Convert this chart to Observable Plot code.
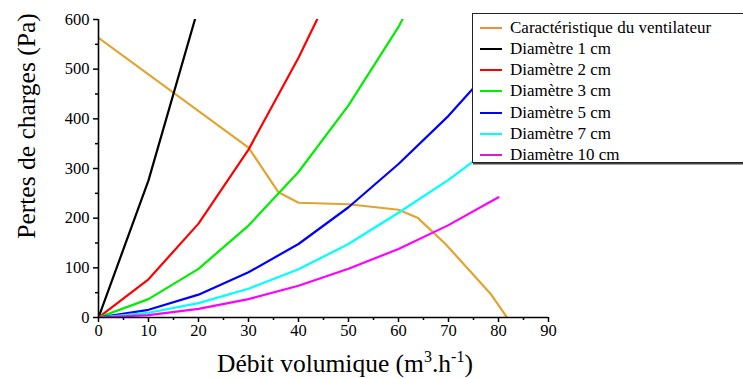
<!DOCTYPE html>
<html>
<head>
<meta charset="utf-8">
<script src="https://cdn.jsdelivr.net/npm/d3@7"></script>
<script src="https://cdn.jsdelivr.net/npm/@observablehq/plot@0.6"></script>
<style>
  html, body { margin: 0; padding: 0; background: #fff; }
  #wrap { position: relative; width: 743px; height: 378px; overflow: hidden; font-family: "Liberation Serif", Tinos, "Times New Roman", "Liberation Sans", sans-serif; }
  #ylab { position: absolute; left: 27px; top: 126px; transform: translate(-50%, -50%) rotate(-90deg); white-space: nowrap; font-size: 25.5px; }
  #xlab { position: absolute; left: 345px; top: 351px; transform: translateX(-50%); white-space: nowrap; font-size: 25.5px; line-height: 25px; }
  #xlab sup { font-size: 16px; vertical-align: 10px; line-height: 0; }
  #legend { position: absolute; left: 472px; top: 13px; width: 290px; height: 148px; background: #fff; border: 1.5px solid #222; box-shadow: 1px 1.5px 0 #444; }
  .row { position: absolute; left: 0; height: 21px; display: flex; align-items: center; font-size: 17px; white-space: nowrap; }
  .sw { width: 22px; height: 0; border-top: 2px solid; margin-left: 7px; margin-right: 8px; }
</style>
</head>
<body>
<div id="wrap"></div>
<script>
// ---- data ----
const xTicks = [0, 10, 20, 30, 40, 50, 60, 70, 80, 90];
const xMinor = [5, 15, 25, 35, 45, 55, 65, 75, 85];
const yTicks = [0, 100, 200, 300, 400, 500, 600];
const yMinor = [50, 150, 250, 350, 450, 550];

const fanX = [0, 30, 36, 40, 50, 60, 63.8, 69.4, 78.4, 81.7];
const fanY = [563, 342, 252, 231, 228, 217, 201, 148, 48, 0];

const d1X = [0, 10, 20];
const d1Y = [0, 276, 625];
const d2X = [0, 10, 20, 30, 40, 50];
const d2Y = [0, 77, 189, 338, 523, 730];
const d3X = [0, 10, 20, 30, 40, 50, 60, 70];
const d3Y = [0, 37, 98, 185, 293, 427, 585, 780];
const d5X = [0, 10, 20, 30, 40, 50, 60, 70, 80];
const d5Y = [0, 15.5, 46, 91, 148, 222, 309, 406, 518];
const d7X = [0, 10, 20, 30, 40, 50, 60, 70, 80];
const d7Y = [0, 9.5, 29, 58, 97, 148, 211, 277, 352];
const d10X = [0, 10, 20, 30, 40, 50, 60, 70, 80];
const d10Y = [0, 4.7, 17.5, 37, 64, 98, 138, 186, 242];

const seriesNames = ["Caractéristique du ventilateur", "Diamètre 1 cm", "Diamètre 2 cm", "Diamètre 3 cm", "Diamètre 5 cm", "Diamètre 7 cm", "Diamètre 10 cm"];
const lineColors = ["#e2a42e", "#000000", "#ff0000", "#00ee00", "#0000ff", "#00ffff", "#ff00ff"];
const legendColors = ["#f58a3c", "#000000", "#ff0000", "#00ee00", "#0000ff", "#00ffff", "#cc22cc"];

const seriesX = [fanX, d1X, d2X, d3X, d5X, d7X, d10X];
const seriesY = [fanY, d1Y, d2Y, d3Y, d5Y, d7Y, d10Y];

const rows = [];
seriesNames.forEach((name, i) => {
  seriesX[i].forEach((x, j) => rows.push({series: name, x, y: seriesY[i][j]}));
});

const FONT = "'Liberation Serif', Tinos, 'Times New Roman', 'Liberation Sans', sans-serif";

const chart = Plot.plot({
  width: 743,
  height: 378,
  marginLeft: 98,
  marginRight: 195,
  marginTop: 19,
  marginBottom: 61,
  style: {fontFamily: FONT, fontSize: "16.5px", color: "#000", background: "#fff"},
  x: {domain: [0, 90]},
  y: {domain: [0, 600]},
  color: {domain: seriesNames, range: lineColors},
  marks: [
    Plot.line(rows, {x: "x", y: "y", z: "series", stroke: "series", strokeWidth: 2.2, clip: true}),
    Plot.axisX({ticks: xTicks, tickSize: 5, tickPadding: 2, strokeWidth: 1.5, label: null}),
    Plot.axisX({ticks: xMinor, tickSize: 3, text: null, strokeWidth: 1.5, label: null}),
    Plot.axisY({ticks: yTicks, tickSize: 5, tickPadding: 4, strokeWidth: 1.5, label: null}),
    Plot.axisY({ticks: yMinor, tickSize: 3, text: null, strokeWidth: 1.5, label: null}),
    Plot.ruleX([0], {strokeWidth: 1.6}),
    Plot.ruleY([0], {strokeWidth: 1.6})
  ]
});

const wrap = document.getElementById("wrap");
wrap.appendChild(chart);

const ylab = document.createElement("div");
ylab.id = "ylab";
ylab.textContent = "Pertes de charges (Pa)";
wrap.appendChild(ylab);

const xlab = document.createElement("div");
xlab.id = "xlab";
xlab.innerHTML = "Débit volumique (m<sup>3</sup>.h<sup>-1</sup>)";
wrap.appendChild(xlab);

const legend = document.createElement("div");
legend.id = "legend";
seriesNames.forEach((name, i) => {
  const r = document.createElement("div");
  r.className = "row";
  r.style.top = (3 + i * 21.3) + "px";
  const sw = document.createElement("span");
  sw.className = "sw";
  sw.style.borderTopColor = legendColors[i];
  const t = document.createElement("span");
  t.textContent = name;
  r.appendChild(sw);
  r.appendChild(t);
  legend.appendChild(r);
});
wrap.appendChild(legend);
</script>
</body>
</html>
